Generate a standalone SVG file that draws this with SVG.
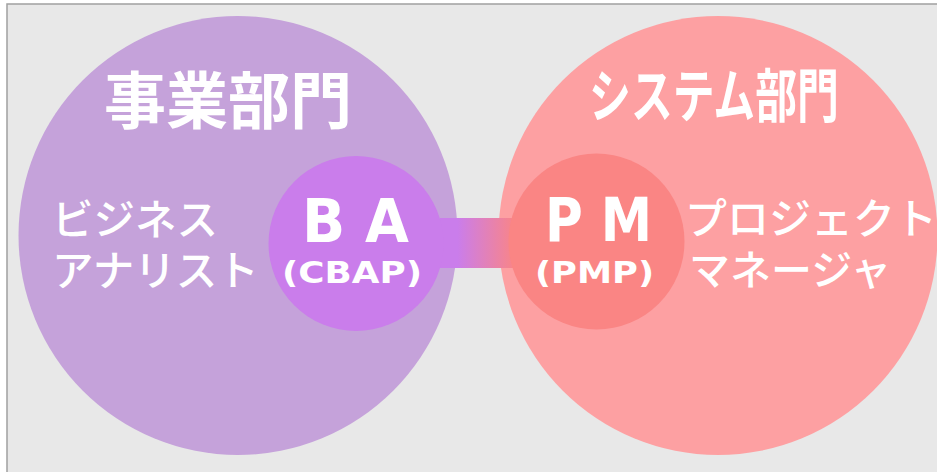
<svg xmlns="http://www.w3.org/2000/svg" width="937" height="472" viewBox="0 0 937 472">
<style>
.jp{font-family:"Noto Sans CJK JP","Noto Sans",sans-serif;fill:#fff}
.lat{font-family:"DejaVu Sans","Noto Sans CJK JP",sans-serif;fill:#fff;font-weight:bold;text-anchor:middle}
</style>
<defs>
<linearGradient id="bar" x1="442" y1="0" x2="520" y2="0" gradientUnits="userSpaceOnUse">
<stop offset="0.2" stop-color="#ca7deb"/>
<stop offset="0.95" stop-color="#fa8585"/>
</linearGradient>
</defs>
<rect x="7" y="4" width="940" height="480" fill="#e8e8e8" stroke="#a0a0a0" stroke-width="1.5"/>
<g id="biz">
<circle cx="238" cy="235.5" r="219.5" fill="#c5a2da"/>
<text class="jp" x="228" y="124" font-size="62" font-weight="bold" text-anchor="middle">事業部門</text>
<text class="jp" x="52" y="235" font-size="41.5" font-weight="500">ビジネス</text>
<text class="jp" x="52" y="286" font-size="41.5" font-weight="500">アナリスト</text>
</g>
<g id="sys">
<circle cx="718" cy="235.5" r="219.5" fill="#fda0a2"/>
<text class="jp" x="589" y="117" font-size="58" font-weight="bold" textLength="250" lengthAdjust="spacingAndGlyphs">システム部門</text>
<text class="jp" x="685" y="234" font-size="42" font-weight="500">プロジェクト</text>
<text class="jp" x="689" y="285" font-size="41" font-weight="500">マネージャ</text>
</g>
<g id="connectors">
<rect x="440" y="218" width="80" height="50" fill="url(#bar)"/>
</g>
<g id="ba">
<circle cx="356" cy="243.5" r="87.5" fill="#ca7deb"/>
<text class="lat" x="355.5" y="242" font-size="60" textLength="107" lengthAdjust="spacingAndGlyphs">B A</text>
<text class="lat" x="352" y="283" font-size="31" textLength="140" lengthAdjust="spacingAndGlyphs">(CBAP)</text>
</g>
<g id="pm">
<circle cx="596.5" cy="241.5" r="88" fill="#fa8584"/>
<text class="lat" x="598.5" y="241" font-size="60" textLength="107" lengthAdjust="spacingAndGlyphs">P M</text>
<text class="lat" x="594.5" y="283" font-size="31" textLength="119" lengthAdjust="spacingAndGlyphs">(PMP)</text>
</g>
</svg>
